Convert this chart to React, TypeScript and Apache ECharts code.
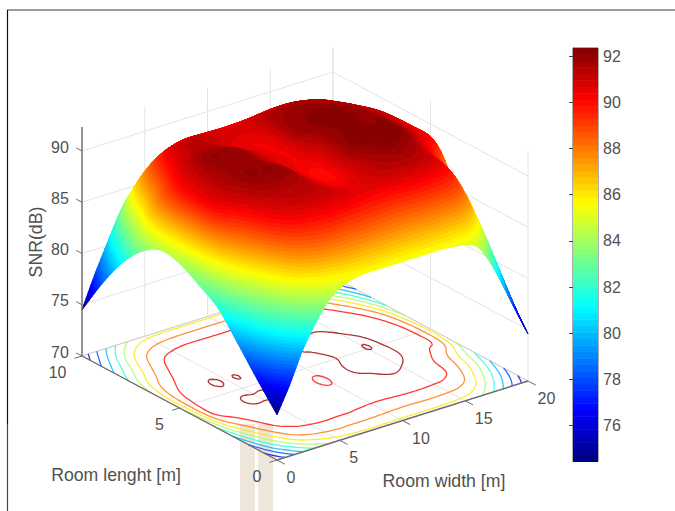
import React, { useEffect, useRef } from "react";
import * as echarts from "echarts";

// SNR(dB), one row per metre of room length, 21 values per metre of room width
const snrY0 = [74.4, 76.9, 79.8, 82.0, 83.8, 84.8, 85.3, 85.5, 85.5, 85.5, 85.5, 85.5, 85.5, 85.5, 85.4, 85.2, 84.6, 82.7, 80.1, 77.3, 74.6];
const snrY1 = [76.8, 81.0, 84.2, 86.9, 88.2, 88.7, 88.9, 88.8, 88.8, 88.7, 88.6, 88.5, 88.5, 88.6, 88.6, 88.5, 88.2, 87.0, 84.2, 81.0, 77.3];
const snrY2 = [79.3, 84.0, 87.4, 89.6, 90.5, 90.8, 90.9, 90.9, 90.8, 90.6, 90.5, 90.6, 90.8, 90.9, 90.9, 90.8, 90.5, 89.5, 87.2, 84.1, 80.1];
const snrY3 = [81.7, 87.0, 89.5, 90.8, 91.3, 91.5, 91.5, 91.3, 90.8, 90.3, 90.3, 90.8, 91.4, 91.8, 92.0, 91.8, 91.3, 90.2, 88.7, 86.0, 82.6];
const snrY4 = [83.0, 89.5, 90.9, 91.5, 92.05, 92.05, 92.05, 91.7, 90.7, 90.1, 89.9, 90.8, 92.0, 92.2, 92.3, 92.3, 92.05, 91.2, 90.3, 89.3, 84.4];
const snrY5 = [84.1, 89.5, 90.9, 91.6, 91.85, 91.85, 91.85, 91.3, 90.7, 90.4, 90.4, 90.9, 91.8, 92.1, 92.25, 91.98, 92.05, 91.4, 90.7, 89.6, 85.1];
const snrY6 = [84.4, 88.8, 90.6, 91.4, 92.05, 91.9, 91.97, 91.3, 90.7, 90.4, 90.5, 91.8, 92.05, 92.2, 92.3, 92.1, 91.9, 91.3, 90.8, 89.1, 84.4];
const snrY7 = [83.2, 87.0, 89.1, 90.6, 91.2, 91.4, 91.2, 90.8, 90.5, 90.4, 90.6, 91.6, 91.9, 91.96, 92.0, 91.8, 91.5, 91.0, 90.0, 87.5, 82.6];
const snrY8 = [81.0, 84.0, 87.0, 89.2, 90.6, 91.0, 91.1, 90.9, 90.8, 90.7, 90.8, 91.1, 91.3, 91.4, 91.4, 91.2, 90.8, 89.8, 87.8, 84.5, 80.1];
const snrY9 = [78.0, 81.0, 84.3, 86.9, 88.3, 89.0, 89.3, 89.4, 89.4, 89.4, 89.4, 89.4, 89.5, 89.6, 89.6, 89.4, 89.0, 87.2, 84.3, 81.0, 77.5];
const snrY10 = [74.5, 77.5, 80.2, 82.8, 84.6, 85.3, 85.5, 85.5, 85.5, 85.5, 85.5, 85.5, 85.5, 85.5, 85.5, 85.2, 84.6, 82.7, 80.2, 77.4, 74.5];
const snrRows = [snrY0, snrY1, snrY2, snrY3, snrY4, snrY5, snrY6, snrY7, snrY8, snrY9, snrY10];

const zTicks = [70, 75, 80, 85, 90];
const widthTicks = [0, 5, 10, 15, 20];
const lengthTicks = [0, 5, 10];
const contourLevels = [76, 78, 80, 82, 84, 86, 88, 90, 92];
const colorbarTicks = [76, 78, 80, 82, 84, 86, 88, 90, 92];
const colorMin = 74.45;
const colorMax = 92.35;
const zTop = 92.35;
const zFloor = 70;
const widthMax = 20;
const lengthMax = 10;
const jetSteps = 64;
const SUB = 6;

const FONT = "Liberation Sans";
const TEXT = "#505050";
const AXIS = "#6b6b6b";
const GRID = "#e4e4e4";

// orthographic view of the MATLAB axes
const project = (x: number, y: number, z: number): [number, number] => [
  277 + 12.55 * x - 19.5 * y,
  460 - 3.95 * x - 10.4 * y - 10.25 * (z - zFloor),
];

const clamp01 = (v: number) => Math.max(0, Math.min(1, v));
const jet = (t: number) => {
  const r = clamp01(Math.min(4 * t - 1.5, -4 * t + 4.5));
  const g = clamp01(Math.min(4 * t - 0.5, -4 * t + 3.5));
  const b = clamp01(Math.min(4 * t + 0.5, -4 * t + 2.5));
  return `rgb(${Math.round(r * 255)},${Math.round(g * 255)},${Math.round(b * 255)})`;
};
const bandStep = (colorMax - colorMin) / jetSteps;
const bandOf = (z: number) => Math.max(0, Math.min(jetSteps - 1, Math.floor((z - colorMin) / bandStep)));
const bandColour = (k: number) => jet((k + 0.5) / jetSteps);

// smooth drawing of the table (as a smoothed line would be), Catmull-Rom between the read values
const at = (i: number, j: number) => {
  const cols = snrRows[0].length;
  const rows = snrRows.length;
  const ci = Math.max(0, Math.min(cols - 1, i));
  const cj = Math.max(0, Math.min(rows - 1, j));
  let v = snrRows[cj][ci];
  if (i !== ci) v += Math.abs(i - ci) * (snrRows[cj][ci] - snrRows[cj][ci + (i < 0 ? 1 : -1)]);
  if (j !== cj) v += Math.abs(j - cj) * (snrRows[cj][ci] - snrRows[cj + (j < 0 ? 1 : -1)][ci]);
  return v;
};
const cr = (a: number, b: number, c: number, d: number, t: number) =>
  b + 0.5 * t * (c - a + t * (2 * a - 5 * b + 4 * c - d + t * (3 * (b - c) + d - a)));
const surfaceZ = (x: number, y: number) => {
  const i = Math.min(widthMax - 1, Math.floor(x));
  const j = Math.min(lengthMax - 1, Math.floor(y));
  const tx = x - i;
  const ty = y - j;
  const col: number[] = [];
  for (let m = -1; m <= 2; m++) {
    col.push(cr(at(i - 1, j + m), at(i, j + m), at(i + 1, j + m), at(i + 2, j + m), tx));
  }
  return cr(col[0], col[1], col[2], col[3], ty);
};

const nx = widthMax * SUB;
const ny = lengthMax * SUB;
const fine: number[][] = [];
for (let j = 0; j <= ny; j++) {
  const row: number[] = [];
  for (let i = 0; i <= nx; i++) row.push(surfaceZ(i / SUB, j / SUB));
  fine.push(row);
}

// cut a facet by the colour bands, painter's order: far corner (20,10) first, near corner (0,0) last
type V3 = [number, number, number];
const clipZ = (poly: V3[], limit: number, keepAbove: boolean): V3[] => {
  const out: V3[] = [];
  for (let n = 0; n < poly.length; n++) {
    const a = poly[n];
    const b = poly[(n + 1) % poly.length];
    const ain = keepAbove ? a[2] >= limit : a[2] <= limit;
    const bin = keepAbove ? b[2] >= limit : b[2] <= limit;
    if (ain) out.push(a);
    if (ain !== bin) {
      const t = (limit - a[2]) / (b[2] - a[2]);
      out.push([a[0] + t * (b[0] - a[0]), a[1] + t * (b[1] - a[1]), limit]);
    }
  }
  return out;
};
type Facet = { band: number; points: [number, number][] };
const facets: Facet[] = [];
for (let i = nx - 1; i >= 0; i--) {
  for (let j = ny - 1; j >= 0; j--) {
    const quad: V3[] = [
      [i / SUB, j / SUB, fine[j][i]],
      [(i + 1) / SUB, j / SUB, fine[j][i + 1]],
      [(i + 1) / SUB, (j + 1) / SUB, fine[j + 1][i + 1]],
      [i / SUB, (j + 1) / SUB, fine[j + 1][i]],
    ];
    const zs = quad.map((v) => v[2]);
    const lo = bandOf(Math.min(...zs));
    const hi = bandOf(Math.max(...zs));
    for (let k = lo; k <= hi; k++) {
      let poly = quad;
      if (k > lo) poly = clipZ(poly, colorMin + k * bandStep, true);
      if (k < hi) poly = clipZ(poly, colorMin + (k + 1) * bandStep, false);
      if (poly.length >= 3) facets.push({ band: k, points: poly.map((v) => project(v[0], v[1], v[2])) });
    }
  }
}

// contour chains by marching squares on the same table
type Chain = { level: number; points: [number, number][] };
const contourChains = (level: number): Chain[] => {
  const segs: { a: string; b: string }[] = [];
  const pos = new Map<string, [number, number]>();
  const crossH = (i: number, j: number) => {
    const k = `h${i},${j}`;
    if (!pos.has(k)) {
      const t = (level - fine[j][i]) / (fine[j][i + 1] - fine[j][i]);
      pos.set(k, [(i + t) / SUB, j / SUB]);
    }
    return k;
  };
  const crossV = (i: number, j: number) => {
    const k = `v${i},${j}`;
    if (!pos.has(k)) {
      const t = (level - fine[j][i]) / (fine[j + 1][i] - fine[j][i]);
      pos.set(k, [i / SUB, (j + t) / SUB]);
    }
    return k;
  };
  for (let j = 0; j < ny; j++) {
    for (let i = 0; i < nx; i++) {
      const a = fine[j][i] >= level;
      const b = fine[j][i + 1] >= level;
      const c = fine[j + 1][i + 1] >= level;
      const d = fine[j + 1][i] >= level;
      const ks: string[] = [];
      if (a !== b) ks.push(crossH(i, j));
      if (b !== c) ks.push(crossV(i + 1, j));
      if (d !== c) ks.push(crossH(i, j + 1));
      if (a !== d) ks.push(crossV(i, j));
      if (ks.length === 2) segs.push({ a: ks[0], b: ks[1] });
      else if (ks.length === 4) {
        segs.push({ a: ks[0], b: ks[3] });
        segs.push({ a: ks[1], b: ks[2] });
      }
    }
  }
  const byKey = new Map<string, number[]>();
  segs.forEach((s, n) => {
    [s.a, s.b].forEach((k) => {
      if (!byKey.has(k)) byKey.set(k, []);
      byKey.get(k)!.push(n);
    });
  });
  const used = new Array(segs.length).fill(false);
  const walk = (start: string, first: number) => {
    const keys = [start];
    let cur = start;
    let n: number | undefined = first;
    while (n !== undefined) {
      used[n] = true;
      cur = segs[n].a === cur ? segs[n].b : segs[n].a;
      keys.push(cur);
      n = (byKey.get(cur) || []).find((m) => !used[m]);
    }
    return keys;
  };
  const out: Chain[] = [];
  const addChain = (keys: string[]) => {
    out.push({
      level,
      points: keys.map((k) => {
        const p = pos.get(k)!;
        return project(p[0], p[1], zFloor);
      }),
    });
  };
  // open chains first, from their ends on the room's edge
  byKey.forEach((list, k) => {
    if (list.length === 1 && !used[list[0]]) addChain(walk(k, list[0]));
  });
  segs.forEach((s, n) => {
    if (!used[n]) addChain(walk(s.a, n));
  });
  return out;
};
const chains: Chain[] = contourLevels.flatMap(contourChains);

const line3 = (a: number[], b: number[], stroke: string, lineWidth: number, z = 1) => {
  const p = project(a[0], a[1], a[2]);
  const q = project(b[0], b[1], b[2]);
  return {
    type: "line",
    z,
    silent: true,
    shape: { x1: p[0], y1: p[1], x2: q[0], y2: q[1] },
    style: { stroke, lineWidth },
  };
};
const label = (text: string, x: number, y: number, align: string, size = 16, rotation = 0) => ({
  type: "text",
  z: 10,
  silent: true,
  x,
  y,
  rotation,
  style: {
    text,
    x: 0,
    y: 0,
    fill: TEXT,
    font: `${size}px "${FONT}"`,
    textAlign: align,
    textVerticalAlign: "middle",
  },
});

const backdrop = [
  { type: "rect", z: 0, silent: true, shape: { x: 240, y: 424, width: 15, height: 87 }, style: { fill: "#ede6da" } },
  { type: "rect", z: 0, silent: true, shape: { x: 258, y: 424, width: 15, height: 87 }, style: { fill: "#ede6da" } },
  { type: "line", z: 0, silent: true, shape: { x1: 7, y1: 10, x2: 675, y2: 10 }, style: { stroke: "#3a3a3a", lineWidth: 1.2 } },
  { type: "line", z: 0, silent: true, shape: { x1: 7.5, y1: 10, x2: 7.5, y2: 424 }, style: { stroke: "#111", lineWidth: 1.2 } },
  { type: "line", z: 0, silent: true, shape: { x1: 7.5, y1: 424, x2: 7.5, y2: 511 }, style: { stroke: "#444", lineWidth: 1.2 } },
];

const gridLines = [
  ...zTicks.flatMap((z) => [
    line3([0, lengthMax, z], [widthMax, lengthMax, z], GRID, 1),
    line3([widthMax, lengthMax, z], [widthMax, 0, z], GRID, 1),
  ]),
  ...widthTicks.flatMap((x) => [
    line3([x, lengthMax, zFloor], [x, lengthMax, zTop], GRID, 1),
    line3([x, 0, zFloor], [x, lengthMax, zFloor], GRID, 1),
  ]),
  ...lengthTicks.flatMap((y) => [
    line3([widthMax, y, zFloor], [widthMax, y, zTop], GRID, 1),
    line3([0, y, zFloor], [widthMax, y, zFloor], GRID, 1),
  ]),
  line3([0, lengthMax, zFloor], [widthMax, lengthMax, zFloor], "#cfcfcf", 1),
  line3([widthMax, lengthMax, zFloor], [widthMax, 0, zFloor], "#cfcfcf", 1),
];

const axisLines = [
  line3([0, lengthMax, zFloor], [0, lengthMax, zTop], AXIS, 1.4, 8),
  line3([0, lengthMax, zFloor], [0, 0, zFloor], AXIS, 1.4, 8),
  line3([0, 0, zFloor], [widthMax, 0, zFloor], AXIS, 1.4, 8),
  ...zTicks.map((z) => line3([0, lengthMax, z], [0, lengthMax + 0.3, z], AXIS, 1, 8)),
  ...widthTicks.map((x) => line3([x, 0, zFloor], [x, -0.4, zFloor], AXIS, 1, 8)),
  ...lengthTicks.map((y) => line3([0, y, zFloor], [-0.6, y, zFloor], AXIS, 1, 8)),
];

const labels = [
  ...zTicks.map((z) => label(String(z), 60, project(0, lengthMax, z)[1] - 4, "center")),
  ...widthTicks.map((x) => {
    const p = project(x, 0, zFloor);
    return label(String(x), p[0] + 9.5, p[1] + 17.5, "left");
  }),
  ...lengthTicks.map((y) => {
    const p = project(0, y, zFloor);
    return label(String(y), p[0] - 15.5, p[1] + 16.5, "right");
  }),
  label("Room lenght [m]", 116, 475, "center", 17.7),
  label("Room width [m]", 444, 481, "center", 17.7),
  label("SNR(dB)", 36, 242, "center", 17.7, Math.PI / 2),
];

const jetLevels = Array.from({ length: jetSteps }, (_, i) => i);

export default function App() {
  const ref = useRef<HTMLDivElement>(null);
  useEffect(() => {
    document.body.style.margin = "0";
    const chart = echarts.init(ref.current!, null, { renderer: "svg" });
    chart.setOption({
      animation: false,
      backgroundColor: "#ffffff",
      graphic: { elements: [...backdrop, ...gridLines, ...axisLines, ...labels] },
      grid: { left: 573, top: 48, width: 25, height: 413.5, show: true, borderColor: "#5a5a5a", borderWidth: 1, backgroundColor: "transparent" },
      xAxis: { type: "value", min: 0, max: 1, show: false },
      yAxis: {
        type: "value",
        min: colorMin,
        max: colorMax,
        position: "right",
        splitLine: { show: false },
        axisLine: { show: true, lineStyle: { color: "#5a5a5a", width: 1 } },
        axisTick: { show: true, inside: true, length: 4, customValues: colorbarTicks, lineStyle: { color: "#444" } },
        axisLabel: { show: true, customValues: colorbarTicks, color: TEXT, fontSize: 16, fontFamily: FONT, margin: 5, formatter: (v: number) => String(v) },
      },
      series: [
        {
          type: "custom",
          coordinateSystem: "none",
          z: 3,
          silent: true,
          progressive: 0,
          data: chains.map((c) => c.level),
          renderItem: (p: any) => {
            const c = chains[p.dataIndex];
            return {
              type: "polyline",
              silent: true,
              shape: { points: c.points },
              style: { fill: "none", stroke: bandColour(bandOf(c.level)), lineWidth: 1.3, opacity: 0.8 },
            };
          },
        },
        {
          type: "custom",
          coordinateSystem: "none",
          z: 5,
          silent: true,
          progressive: 0,
          data: facets.map((f) => f.band),
          renderItem: (p: any) => {
            const f = facets[p.dataIndex];
            const colour = bandColour(f.band);
            return {
              type: "polygon",
              silent: true,
              shape: { points: f.points },
              style: { fill: colour, stroke: colour, lineWidth: 0.9, lineJoin: "round" },
            };
          },
        },
        {
          type: "custom",
          z: 2,
          silent: true,
          progressive: 0,
          data: jetLevels,
          renderItem: (p: any, api: any) => {
            const i = p.dataIndex;
            const a = api.coord([0, colorMin + i * bandStep]);
            const b = api.coord([1, colorMin + (i + 1) * bandStep]);
            return {
              type: "rect",
              silent: true,
              shape: { x: a[0], y: b[1], width: b[0] - a[0], height: a[1] - b[1] + 0.5 },
              style: { fill: bandColour(i) },
            };
          },
        },
      ],
    });
    return () => chart.dispose();
  }, []);
  return <div ref={ref} style={{ width: 675, height: 511 }} />;
}
